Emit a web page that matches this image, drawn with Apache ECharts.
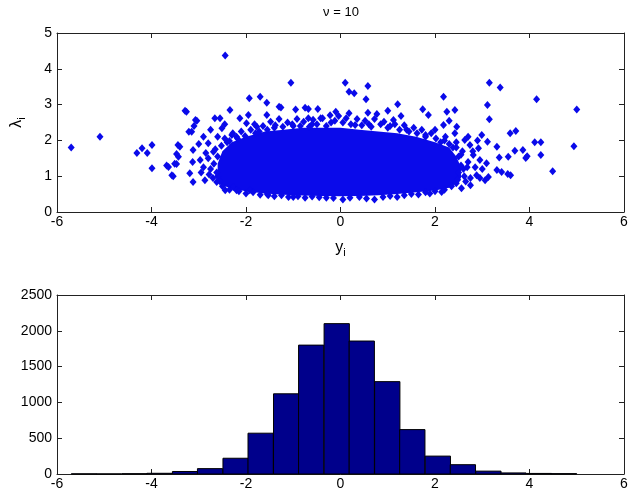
<!DOCTYPE html>
<html>
<head>
<meta charset="utf-8">
<script src="https://cdn.jsdelivr.net/npm/echarts@6/dist/echarts.min.js"></script>
<style>
  html, body { margin: 0; padding: 0; background: #fff; }
  #chart { width: 632px; height: 493px; }
</style>
</head>
<body>
<div id="chart"></div>
<script>
// dense core of the scatter cloud: outline (y_i, lower / upper lambda_i)
var coreX = [-2.6, -2.5, -2.3, -2.0, -1.6, -1.2, -0.8, -0.4, 0, 0.4, 0.8, 1.2, 1.6, 2.0, 2.3, 2.45, 2.55];
var coreUpper = [1.35, 1.7, 1.95, 2.1, 2.25, 2.3, 2.35, 2.35, 2.35, 2.3, 2.25, 2.2, 2.1, 1.95, 1.8, 1.55, 1.25];
var coreLower = [0.9, 0.75, 0.65, 0.58, 0.52, 0.48, 0.46, 0.45, 0.44, 0.45, 0.47, 0.5, 0.55, 0.6, 0.68, 0.8, 0.95];

// scattered points outside / on the edge of the solid core [y_i, lambda_i]
var fringePoints = [
  [-5.70,1.80],[-5.09,2.10],[-4.31,1.65],[-4.20,1.78],[-4.09,1.65],[-3.99,1.87],[-3.99,1.22],
  [-3.68,1.30],[-3.57,1.03],[-3.51,1.35],[-3.47,1.62],[-3.44,1.87],[-3.29,2.83],[-3.21,2.24],
  [-3.10,2.40],[-3.07,2.57],[-2.44,4.37],
  [-3.64,1.26],[-3.54,1.00],[-3.47,1.34],[-3.43,1.54],[-3.40,1.82],[-3.26,2.80],[-3.15,2.24],
  [-3.04,2.55],[-3.12,1.73],[-3.13,1.40],[-3.19,1.08],[-3.12,0.84],[-2.87,0.89],[-2.97,1.45],
  [-2.80,1.92],[-2.66,2.62],[-2.55,2.62],[-2.34,2.85],[-2.51,2.34],[-2.69,1.68],[-2.30,2.15],
  [-2.13,2.62],[-1.93,3.18],[-1.70,3.22],[-1.56,3.05],[-1.95,2.71],[-1.99,2.48],[-1.77,2.38],
  [-1.56,2.71],[-2.27,0.70],[-2.62,0.84],[-2.44,0.61],[-2.20,0.61],[-1.92,0.61],[-1.53,0.47],
  [-1.30,2.94],[-0.95,2.86],[-0.75,2.91],
  [-1.05,3.61],[-1.26,2.92],[-0.68,2.88],[-0.48,2.88],[0.10,3.61],[0.58,3.52],[0.18,3.36],
  [0.29,3.32],[0.54,3.15],[1.21,3.01],[-0.68,2.62],[-0.42,2.62],[-0.10,2.80],[0.18,2.76],
  [0.58,2.77],[0.77,2.74],[1.00,2.83],[1.28,2.68],[1.12,2.57],[0.31,2.43],
  [3.15,3.61],[3.38,3.48],[2.18,3.22],[3.11,2.99],[3.15,2.59],[1.74,2.87],[2.25,2.80],
  [2.42,2.85],[1.86,2.71],[2.30,2.55],[2.18,2.43],[2.46,2.38],[2.42,2.20],[2.99,2.15],
  [3.11,1.96],[3.31,1.82],[3.59,2.20],[3.71,2.26],[3.69,1.71],[3.95,1.56],[3.55,1.54],
  [3.36,1.52],[3.31,1.17],[3.41,1.12],[3.60,1.03],[3.09,1.36],[3.13,0.98],[3.06,0.89],
  [2.88,1.03],[2.56,0.66],[2.14,0.56],[1.89,0.52],[2.81,1.59],[2.92,1.78],[2.74,1.87],[2.63,2.01],
  [4.15,3.15],[4.11,1.95],[4.24,1.95],[4.24,1.59],[4.49,1.14],[4.94,1.84],[5.00,2.86],
  [3.86,1.73],[3.92,1.51],[3.54,1.06],
  [0.05,0.35],[0.72,0.35],[-0.30,0.40],[1.20,0.42],[-1.00,0.42],
  [-2.75,1.20],[-2.80,1.50],[-2.60,1.00],[-2.65,1.75],[-2.90,1.25],[2.60,1.20],[2.70,1.40],
  [2.55,1.60],[2.75,0.95],[2.65,0.85],[2.45,1.80],[2.20,2.00],[-2.40,1.95],[-2.20,2.10],
  [-1.80,2.20],[-1.40,2.35],[-1.00,2.40],[-0.60,2.45],[-0.20,2.50],[0.60,2.45],[1.00,2.35],
  [1.40,2.30],[1.80,2.15],[2.00,2.30],
  // ragged upper edge of the core
  [-2.52,1.85],[-2.45,2.05],[-2.35,1.98],[-2.28,2.20],[-2.18,2.05],[-2.10,2.25],[-2.02,2.12],
  [-1.90,2.30],[-1.82,2.45],[-1.72,2.25],[-1.64,2.40],[-1.55,2.30],[-1.48,2.52],[-1.38,2.42],
  [-1.30,2.60],[-1.22,2.38],[-1.12,2.50],[-1.02,2.45],[-0.92,2.60],[-0.85,2.40],[-0.78,2.52],
  [-0.66,2.38],[-0.58,2.58],[-0.50,2.45],[-0.38,2.62],[-0.30,2.40],[-0.22,2.70],[-0.12,2.55],
  [-0.04,2.68],[0.05,2.50],[0.12,2.62],[0.22,2.45],[0.35,2.60],[0.45,2.42],[0.52,2.55],
  [0.65,2.38],[0.72,2.60],[0.85,2.45],[0.92,2.52],[1.05,2.40],[1.15,2.45],[1.25,2.30],
  [1.35,2.42],[1.45,2.25],[1.55,2.35],[1.62,2.20],[1.72,2.30],[1.80,2.10],[1.92,2.20],
  [2.02,2.05],[2.12,1.95],[2.22,2.10],[2.30,1.90],[2.38,1.80],[2.45,1.95],
  // ragged lower edge
  [-2.50,0.72],[-2.35,0.62],[-2.15,0.58],[-2.00,0.52],[-1.85,0.55],[-1.70,0.48],[-1.55,0.50],
  [-1.40,0.44],[-1.25,0.47],[-1.10,0.42],[-0.90,0.44],[-0.75,0.40],[-0.60,0.43],[-0.45,0.41],
  [-0.15,0.39],[0.20,0.40],[0.40,0.42],[0.55,0.38],[0.90,0.42],[1.05,0.45],[1.35,0.47],
  [1.50,0.50],[1.65,0.49],[1.80,0.55],[2.00,0.58],[2.20,0.62],[2.35,0.72],[2.45,0.80],
  // ragged left / right ends
  [-2.62,1.10],[-2.68,1.35],[-2.60,1.55],[-2.70,0.95],[-2.78,1.05],[-2.55,0.85],
  [2.50,1.10],[2.55,1.30],[2.62,1.00],[2.50,1.55],[2.58,1.70],[2.68,1.25],[2.48,0.90],
  [2.85,1.25],[2.95,1.45],[2.80,1.70],[2.70,2.10],[2.90,2.00],[3.00,1.20],[2.95,0.95],[2.75,0.75],
  [-2.85,1.65],[-2.95,1.10],[-3.00,1.90],[-2.90,2.10],[-2.75,2.30],[-2.60,2.10],[-2.45,2.45]
];

// histogram of y_i
var binWidth = 0.535;
var histCenters = [-5.43, -4.90, -4.36, -3.83, -3.29, -2.76, -2.22, -1.69, -1.15, -0.62,
                   -0.08, 0.45, 0.99, 1.52, 2.06, 2.59, 3.13, 3.66, 4.20, 4.73];
var histCounts = [2, 1, 4, 10, 35, 75, 220, 570, 1120, 1800,
                  2100, 1857, 1290, 620, 250, 130, 40, 15, 8, 5];

var dotColor = '#0a0aea';
var barColor = '#00008b';
var font = 'Liberation Sans, Arial, sans-serif';

var chart = echarts.init(document.getElementById('chart'));

function plain(v) { return String(v); }

function xAx(grid, pos, showLabel, name) {
  return {
    type: 'value', gridIndex: grid, position: pos, min: -6, max: 6, interval: 2,
    axisLine: { show: true, onZero: false, lineStyle: { color: '#222', width: 1 } },
    axisTick: { show: true, inside: true, length: 5, lineStyle: { color: '#222' } },
    axisLabel: { show: showLabel, color: '#000', fontSize: 14, fontFamily: font, margin: 3, formatter: plain },
    splitLine: { show: false },
    name: name || '', nameLocation: 'middle', nameGap: 25,
    nameTextStyle: {
      color: '#000', fontFamily: font,
      rich: {
        a: { fontSize: 16, fontFamily: font, color: '#000' },
        b: { fontSize: 11, fontFamily: font, color: '#000', padding: [10, 0, 0, 0] }
      }
    }
  };
}
function yAx(grid, pos, min, max, step, showLabel, name) {
  return {
    type: 'value', gridIndex: grid, position: pos, min: min, max: max, interval: step,
    axisLine: { show: true, onZero: false, lineStyle: { color: '#222', width: 1 } },
    axisTick: { show: true, inside: true, length: 5, lineStyle: { color: '#222' } },
    axisLabel: { show: showLabel, color: '#000', fontSize: 14, fontFamily: font, margin: 5, formatter: plain },
    splitLine: { show: false },
    name: name || '', nameLocation: 'middle', nameGap: 30, nameRotate: 90,
    nameTextStyle: {
      color: '#000', fontFamily: font,
      rich: {
        a: { fontSize: 16, fontFamily: font, color: '#000' },
        b: { fontSize: 11, fontFamily: font, color: '#000', padding: [10, 0, 0, 0] }
      }
    }
  };
}

chart.setOption({
  animation: false,
  backgroundColor: '#fff',
  graphic: [{
    type: 'text', x: 341, y: 6,
    style: { text: 'ν = 10', font: '13px ' + font, fill: '#000', textAlign: 'center' }
  }],
  grid: [
    { left: 57, right: 8, top: 33, height: 179 },
    { left: 57, right: 8, top: 295, height: 179 }
  ],
  xAxis: [
    xAx(0, 'bottom', true, '{a|y}{b|i}'),
    xAx(0, 'top', false),
    xAx(1, 'bottom', true),
    xAx(1, 'top', false)
  ],
  yAxis: [
    yAx(0, 'left', 0, 5, 1, true, '{a|λ}{b|i}'),
    yAx(0, 'right', 0, 5, 1, false),
    yAx(1, 'left', 0, 2500, 500, true),
    yAx(1, 'right', 0, 2500, 500, false)
  ],
  series: [
    {
      type: 'custom', xAxisIndex: 0, yAxisIndex: 0, silent: true,
      data: [0],
      renderItem: function (params, api) {
        var pts = [];
        for (var i = 0; i < coreX.length; i++) pts.push(api.coord([coreX[i], coreUpper[i]]));
        for (var j = coreX.length - 1; j >= 0; j--) pts.push(api.coord([coreX[j], coreLower[j]]));
        return { type: 'polygon', shape: { points: pts }, style: { fill: dotColor } };
      }
    },
    {
      type: 'scatter', xAxisIndex: 0, yAxisIndex: 0,
      symbol: 'diamond', symbolSize: [7, 8],
      itemStyle: { color: dotColor, opacity: 1 },
      data: fringePoints
    },
    {
      type: 'custom', xAxisIndex: 2, yAxisIndex: 2,
      data: histCenters.map(function (c, i) { return [c - binWidth / 2, c + binWidth / 2, histCounts[i]]; }),
      encode: { x: [0, 1], y: 2 },
      renderItem: function (params, api) {
        var p0 = api.coord([api.value(0), api.value(2)]);
        var p1 = api.coord([api.value(1), 0]);
        return {
          type: 'rect',
          shape: { x: p0[0], y: p0[1], width: p1[0] - p0[0], height: p1[1] - p0[1] },
          style: { fill: barColor, stroke: '#000', lineWidth: 1 }
        };
      }
    }
  ]
});
</script>
</body>
</html>
